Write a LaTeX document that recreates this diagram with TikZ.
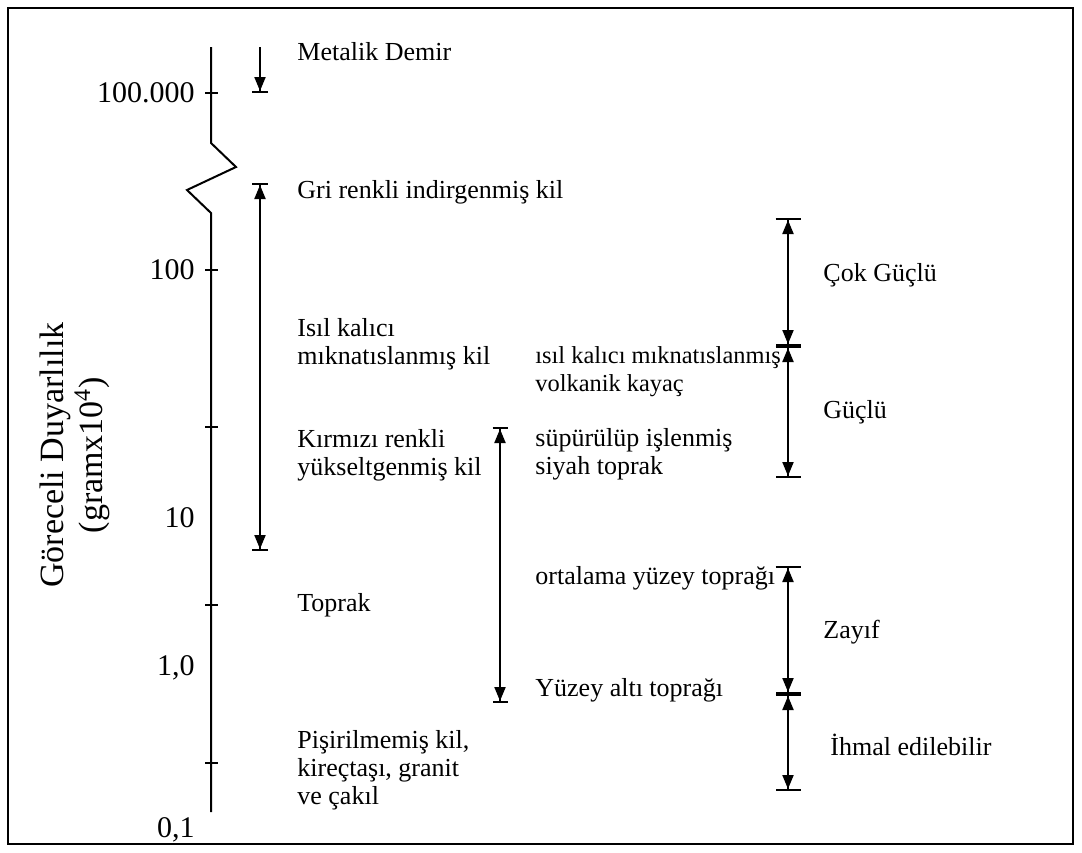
\documentclass[tikz,border=0pt]{standalone}
\usepackage{fontspec}
\setmainfont{Liberation Serif}
\usetikzlibrary{arrows.meta}

\begin{document}
\begin{tikzpicture}[x=0.5pt,y=-0.5pt,
  every node/.style={inner sep=0pt},
  txt/.style={anchor=west,align=left,font=\fontsize{13}{14}\selectfont},
  scalelabel/.style={anchor=east,font=\fontsize{15}{17}\selectfont},
  axisline/.style={line width=1pt},
  rng/.style={line width=1pt,
    {Bar[width=#1]Triangle[length=7pt,width=5.5pt]}-{Triangle[length=7pt,width=5.5pt]Bar[width=#1]}},
  rng/.default=8pt,
  toend/.style={line width=1pt,-{Triangle[length=7pt,width=5.5pt]Bar[width=8pt]}}]
  \useasboundingbox (0,0) rectangle (1082,852);
  \draw[line width=1pt] (8,8) rectangle (1073,844);

  % scale
  \draw[axisline] (211,47) -- (211,143) -- (236,167) -- (187,190) -- (211,213) -- (211,812);
  \foreach \ty in {93,270,427,605,763}
    \draw[axisline] (205,\ty) -- (218,\ty);
  \node[scalelabel] (s100000) at (195,93) {100.000};
  \node[scalelabel] (s100) at (195,270) {100};
  \node[scalelabel] (s10) at (195,518) {10};
  \node[scalelabel] (s1) at (195,668) {1,0};
  \node[scalelabel] (s01) at (195,830) {0,1};
  \node[rotate=90,align=center,font=\fontsize{17}{19.5}\selectfont] (ylab) at (75,455)
    {Göreceli Duyarlılık\\(gramx10\textsuperscript{4})};

  % left column
  \coordinate (demTop) at (260,47);
  \coordinate (demBot) at (260,93);
  \coordinate (kilTop) at (260,183);
  \coordinate (kilBot) at (260,551);
  \draw[toend] (demTop) -- (demBot);
  \draw[rng] (kilTop) -- (kilBot);
  \node[txt] (metal) at (297,52) {Metalik Demir};
  \node[txt] (gri) at (297,192) {Gri renkli indirgenmiş kil};
  \node[txt] (isil) at (297,344) {Isıl kalıcı\\mıknatıslanmış kil};
  \node[txt] (kirmizi) at (297,455) {Kırmızı renkli\\yükseltgenmiş kil};
  \node[txt] (toprak) at (297,605) {Toprak};
  \node[txt] (pisir) at (297,770) {Pişirilmemiş kil,\\kireçtaşı, granit\\ve çakıl};

  % middle column
  \coordinate (topTop) at (500,427);
  \coordinate (topBot) at (500,703);
  \draw[rng=7.5pt] (topTop) -- (topBot);
  \node[txt,font=\fontsize{12.2}{14}\selectfont] (volkanik) at (535,372) {ısıl kalıcı mıknatıslanmış\\volkanik kayaç};
  \node[txt] (supur) at (535,454) {süpürülüp işlenmiş\\siyah toprak};
  \node[txt] (ortalama) at (535,578) {ortalama yüzey toprağı};
  \node[txt] (yuzeyalti) at (535,690) {Yüzey altı toprağı};

  % right column
  \coordinate (r1) at (788,218);
  \coordinate (r2) at (788,346);
  \coordinate (r3) at (788,478);
  \coordinate (r4) at (788,566);
  \coordinate (r5) at (788,694);
  \coordinate (r6) at (788,791);
  \draw[rng=12.5pt] (r1) -- (r2);
  \draw[rng=12.5pt] (r2) -- (r3);
  \draw[rng=12.5pt] (r4) -- (r5);
  \draw[rng=12.5pt] (r5) -- (r6);
  \node[txt] (cokguclu) at (823,275) {Çok Güçlü};
  \node[txt] (guclu) at (823,412) {Güçlü};
  \node[txt] (zayif) at (823,632) {Zayıf};
  \node[txt] (ihmal) at (830,745) {İhmal edilebilir};
\end{tikzpicture}
\end{document}
